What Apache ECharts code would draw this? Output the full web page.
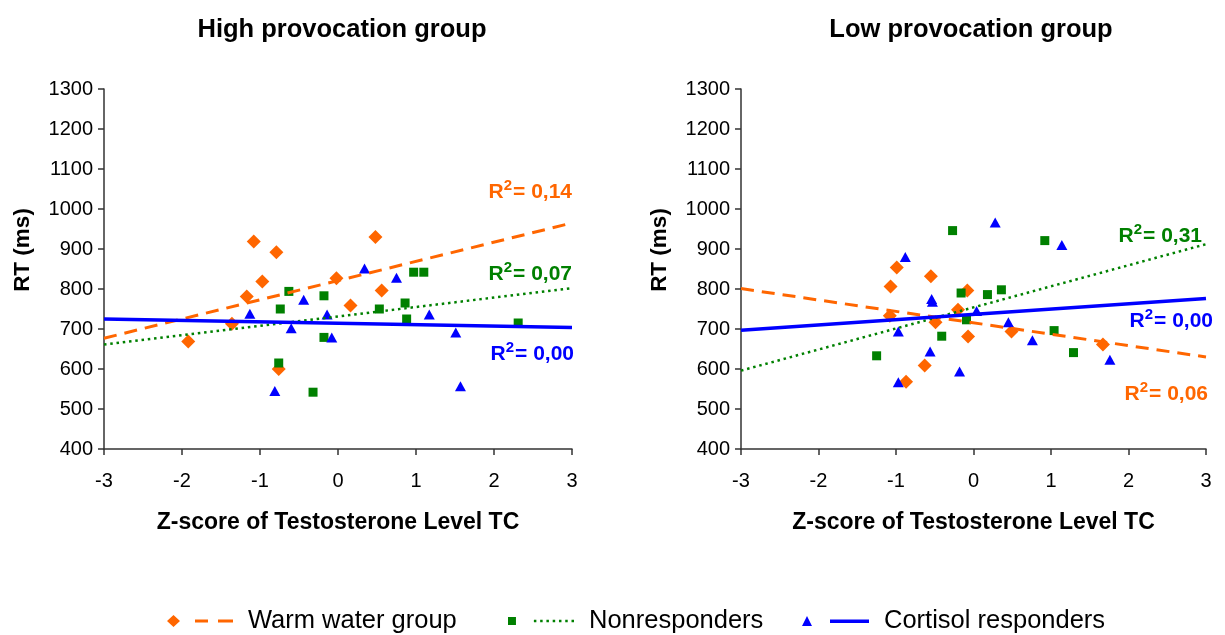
<!DOCTYPE html>
<html>
<head>
<meta charset="utf-8">
<script src="https://cdn.jsdelivr.net/npm/echarts@6/dist/echarts.min.js"></script>
<style>
  html, body { margin: 0; padding: 0; background: #fff; }
  #chart { width: 1225px; height: 635px; }
</style>
</head>
<body>
<div id="chart"></div>
<script>
// Reaction time (ms) vs. z-scored testosterone, per stress-response group.
// Each point is [z-score, RT].
const highWarm = [[-1.92,669],[-1.36,713],[-1.17,781],[-1.08,919],[-0.97,819],[-0.79,892],[-0.76,600],[-0.02,827],[0.16,759],[0.48,930],[0.56,796]];
const highNon  = [[-0.74,750],[-0.63,794],[-0.76,615],[-0.32,542],[-0.18,783],[-0.18,679],[0.53,750],[0.86,765],[0.88,725],[0.97,842],[1.10,842],[2.31,715]];
const highCort = [[-1.13,738],[-0.81,545],[-0.60,702],[-0.44,773],[-0.14,736],[-0.08,679],[0.34,851],[0.75,828],[1.17,736],[1.51,691],[1.57,557]];

const lowWarm = [[-1.08,733],[-1.07,806],[-0.99,854],[-0.87,568],[-0.63,609],[-0.55,832],[-0.49,717],[-0.20,748],[-0.08,796],[-0.07,681],[0.49,694],[1.67,661]];
const lowNon  = [[-1.25,633],[-0.41,682],[-0.27,946],[-0.16,790],[-0.09,723],[0.18,786],[0.36,798],[0.92,921],[1.04,696],[1.29,641]];
const lowCort = [[-0.97,694],[-0.97,567],[-0.88,880],[-0.56,644],[-0.54,775],[-0.53,768],[-0.18,594],[0.04,745],[0.28,966],[0.45,717],[0.76,672],[1.14,910],[1.76,623]];

// Linear trend lines, given by their end points at z = -3 and z = 3.
const highWarmFit = [[-3,677],[3,965]];
const highNonFit  = [[-3,661],[3,802]];
const highCortFit = [[-3,725],[3,704]];
const lowWarmFit  = [[-3,801],[3,630]];
const lowNonFit   = [[-3,596],[3,912]];
const lowCortFit  = [[-3,697],[3,776]];

// Coefficients of determination printed beside each trend line.
const highR2 = { warm: '0,14', non: '0,07', cort: '0,00' };
const lowR2  = { warm: '0,06', non: '0,31', cort: '0,00' };

const groupNames = ['Warm water group', 'Nonresponders', 'Cortisol responders'];
const panelTitles = ['High provocation group', 'Low provocation group'];
const xAxisTitle = 'Z-score of Testosterone Level TC';
const yAxisTitle = 'RT (ms)';

const ORANGE = '#FF6600', GREEN = '#008000', BLUE = '#0000FF';
const FONT = 'Liberation Sans, Arial, sans-serif';

function r2Label(value, color, coord, dx) {
  return {
    symbol: 'circle',
    symbolSize: 0,
    silent: true,
    data: [{ coord: coord }],
    label: {
      show: true,
      position: 'left',
      distance: 0,
      offset: [dx || 0, 0],
      formatter: '{r|R}{s|2}{r|= ' + value + '}',
      rich: {
        r: { fontFamily: FONT, fontWeight: 'bold', fontSize: 21, color: color, lineHeight: 24, verticalAlign: 'bottom' },
        s: { fontFamily: FONT, fontWeight: 'bold', fontSize: 15, color: color, lineHeight: 24, verticalAlign: 'top', padding: [0, 1, 0, 0] }
      }
    }
  };
}

function scatter(name, data, idx, symbol, size, color) {
  return {
    name: name, type: 'scatter', xAxisIndex: idx, yAxisIndex: idx,
    data: data, symbol: symbol, symbolSize: size,
    itemStyle: { color: color, opacity: 1 }, z: 2
  };
}

function fit(name, data, idx, color, width, dash, r2) {
  return {
    name: name, type: 'line', xAxisIndex: idx, yAxisIndex: idx,
    data: data, showSymbol: false, silent: true, z: 3,
    lineStyle: { color: color, width: width, type: dash, cap: 'butt' },
    itemStyle: { color: color },
    markPoint: r2
  };
}

function xAxis(idx) {
  return {
    type: 'value', gridIndex: idx, min: -3, max: 3, interval: 1,
    name: xAxisTitle, nameLocation: 'middle', nameGap: 62,
    nameTextStyle: { fontFamily: FONT, fontWeight: 'bold', fontSize: 23, color: '#000' },
    axisLine: { show: true, onZero: false, lineStyle: { color: '#333', width: 1.5 } },
    axisTick: { show: true, inside: false, length: 6, lineStyle: { color: '#333', width: 1.5 } },
    axisLabel: { fontFamily: FONT, fontSize: 20, color: '#000', margin: 22, formatter: v => String(v) },
    splitLine: { show: false }
  };
}

function yAxis(idx) {
  return {
    type: 'value', gridIndex: idx, min: 400, max: 1300, interval: 100,
    name: yAxisTitle, nameLocation: 'middle', nameGap: 70,
    nameTextStyle: { fontFamily: FONT, fontWeight: 'bold', fontSize: 22.5, color: '#000', padding: [0, 0, 0, 38] },
    axisLine: { show: true, onZero: false, lineStyle: { color: '#333', width: 1.5 } },
    axisTick: { show: true, inside: false, length: 6, lineStyle: { color: '#333', width: 1.5 } },
    axisLabel: { fontFamily: FONT, fontSize: 20, color: '#000', margin: 11, formatter: v => String(v) },
    splitLine: { show: false }
  };
}

// Legend icons: marker followed by a sample of the trend line style.
const iconWarm = 'path://M0 6L6.5 0L13 6L6.5 12Z M28 4.5h13v3h-13Z M51 4.5h15v3h-15Z';
let dots = '';
for (let k = 0; k < 7; k++) {
  const x = 26 + k * 6.3;
  dots += ' M' + x.toFixed(1) + ' 2.75h2.5v2.5h-2.5Z';
}
const iconNon = 'path://M0 0h8v8h-8Z' + dots;
const iconCort = 'path://M0 10L5 0L10 10Z M28 3.5h39v3.5h-39Z';

function legend(left, name, icon, w, h, color) {
  return {
    left: left, top: 608, orient: 'horizontal', padding: 0,
    itemWidth: w, itemHeight: h,
    data: [{ name: name, icon: icon, itemStyle: { color: color, borderWidth: 0 } }],
    textStyle: { fontFamily: FONT, fontSize: 25.5, color: '#000', padding: [0, 0, 0, 10] }
  };
}

const option = {
  animation: false,
  backgroundColor: '#fff',
  title: [
    { text: panelTitles[0], left: 337, top: 12, textAlign: 'center',
      textStyle: { fontFamily: FONT, fontWeight: 'bold', fontSize: 25.5, color: '#000' } },
    { text: panelTitles[1], left: 966, top: 12, textAlign: 'center',
      textStyle: { fontFamily: FONT, fontWeight: 'bold', fontSize: 25.5, color: '#000' } }
  ],
  grid: [
    { left: 104, top: 89, width: 468, height: 360 },
    { left: 741, top: 89, width: 465, height: 360 }
  ],
  xAxis: [xAxis(0), xAxis(1)],
  yAxis: [yAxis(0), yAxis(1)],
  legend: [
    legend(167, groupNames[0], iconWarm, 66, 12, ORANGE),
    legend(508, groupNames[1], iconNon, 66, 8, GREEN),
    legend(802, groupNames[2], iconCort, 67, 10, BLUE)
  ],
  series: [
    scatter(groupNames[0], highWarm, 0, 'diamond', 14, ORANGE),
    scatter(groupNames[1], highNon, 0, 'rect', 9, GREEN),
    scatter(groupNames[2], highCort, 0, 'triangle', [11, 10], BLUE),
    scatter(groupNames[0], lowWarm, 1, 'diamond', 14, ORANGE),
    scatter(groupNames[1], lowNon, 1, 'rect', 9, GREEN),
    scatter(groupNames[2], lowCort, 1, 'triangle', [11, 10], BLUE),

    fit('Warm water trend (high)', highWarmFit, 0, ORANGE, 3, [13, 8], r2Label(highR2.warm, ORANGE, [3, 1046])),
    fit('Nonresponder trend (high)', highNonFit, 0, GREEN, 2.5, [2.5, 3.8], r2Label(highR2.non, GREEN, [3, 841])),
    fit('Cortisol trend (high)', highCortFit, 0, BLUE, 3.5, 'solid', r2Label(highR2.cort, BLUE, [3, 641], 2)),
    fit('Warm water trend (low)', lowWarmFit, 1, ORANGE, 3, [13, 8], r2Label(lowR2.warm, ORANGE, [3, 541], 2)),
    fit('Nonresponder trend (low)', lowNonFit, 1, GREEN, 2.5, [2.5, 3.8], r2Label(lowR2.non, GREEN, [3, 936], -4)),
    fit('Cortisol trend (low)', lowCortFit, 1, BLUE, 3.5, 'solid', r2Label(lowR2.cort, BLUE, [3, 724], 7))
  ]
};

const chart = echarts.init(document.getElementById('chart'), null, { renderer: 'canvas' });
chart.setOption(option);
</script>
</body>
</html>
